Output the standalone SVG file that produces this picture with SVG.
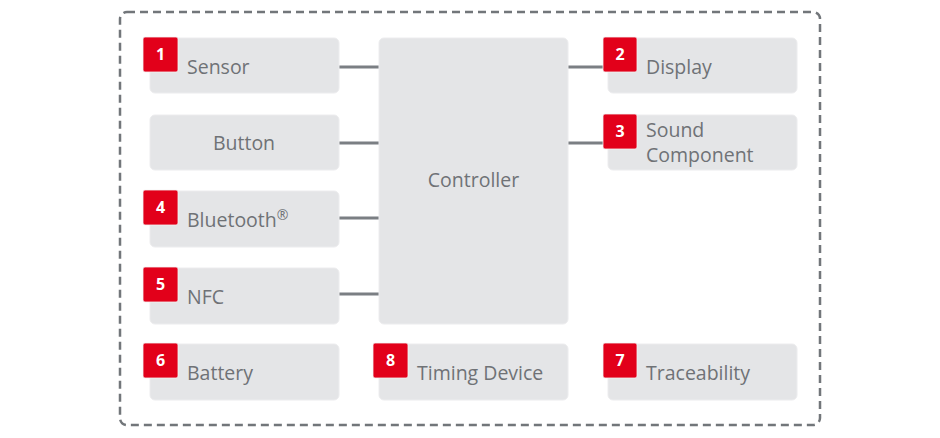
<svg xmlns="http://www.w3.org/2000/svg" width="940" height="438" viewBox="0 0 940 438">
<style>
.box{fill:#e4e5e7;stroke:#ececee;stroke-width:1}
.badge{fill:#e2001a;stroke:#f4f4f4;stroke-width:0.8}
.num{font-family:"Open Sans","Noto Sans",sans-serif;font-size:16px;font-weight:bold;fill:#ffffff;text-anchor:middle}
.lbl{font-family:"Open Sans","Noto Sans",sans-serif;font-size:19.5px;fill:#6f7276}
.mid{text-anchor:middle}
.conn{stroke:#7b7f83;stroke-width:3}
</style>
<rect x="120" y="12" width="700" height="413" rx="7" fill="none" stroke="#72767a" stroke-width="2.5" stroke-dasharray="8 5"/>
<g id="connectors">
<line class="conn" x1="338" y1="67" x2="379" y2="67"/>
<line class="conn" x1="338" y1="143" x2="379" y2="143"/>
<line class="conn" x1="338" y1="218" x2="379" y2="218"/>
<line class="conn" x1="338" y1="294" x2="379" y2="294"/>
<line class="conn" x1="568" y1="67" x2="603" y2="67"/>
<line class="conn" x1="568" y1="143" x2="603" y2="143"/>
</g>
<g id="controller">
<rect class="box" x="379" y="38" width="189" height="286" rx="5"/>
<text class="lbl mid" x="473.5" y="187">Controller</text>
</g>
<g id="sensor">
<rect class="box" x="150" y="38" width="189" height="55" rx="5"/>
<rect class="badge" x="143" y="37" width="35" height="35" rx="2"/>
<text class="num" x="160.5" y="60">1</text>
<text class="lbl" x="187" y="74">Sensor</text>
</g>
<g id="button">
<rect class="box" x="150" y="115" width="189" height="55" rx="5"/>
<text class="lbl mid" x="244" y="150">Button</text>
</g>
<g id="bluetooth">
<rect class="box" x="150" y="191" width="189" height="56" rx="5"/>
<rect class="badge" x="143" y="190" width="35" height="35" rx="2"/>
<text class="num" x="160.5" y="213">4</text>
<text class="lbl" x="187" y="227">Bluetooth<tspan font-size="14" dy="-7">®</tspan></text>
</g>
<g id="nfc">
<rect class="box" x="150" y="268" width="189" height="56" rx="5"/>
<rect class="badge" x="143" y="267" width="35" height="35" rx="2"/>
<text class="num" x="160.5" y="290">5</text>
<text class="lbl" x="187" y="304">NFC</text>
</g>
<g id="display">
<rect class="box" x="608" y="38" width="189" height="55" rx="5"/>
<rect class="badge" x="603" y="37" width="34" height="35" rx="2"/>
<text class="num" x="620" y="60">2</text>
<text class="lbl" x="646" y="74">Display</text>
</g>
<g id="sound">
<rect class="box" x="608" y="115" width="189" height="55" rx="5"/>
<rect class="badge" x="603" y="114" width="34" height="35" rx="2"/>
<text class="num" x="620" y="137">3</text>
<text class="lbl" x="646" y="137">Sound</text>
<text class="lbl" x="646" y="162">Component</text>
</g>
<g id="battery">
<rect class="box" x="150" y="344" width="189" height="56" rx="5"/>
<rect class="badge" x="143" y="343" width="35" height="35" rx="2"/>
<text class="num" x="160.5" y="366">6</text>
<text class="lbl" x="187" y="380">Battery</text>
</g>
<g id="timing">
<rect class="box" x="379" y="344" width="189" height="56" rx="5"/>
<rect class="badge" x="373" y="343" width="35" height="35" rx="2"/>
<text class="num" x="390.5" y="366">8</text>
<text class="lbl" x="417" y="380">Timing Device</text>
</g>
<g id="traceability">
<rect class="box" x="608" y="344" width="189" height="56" rx="5"/>
<rect class="badge" x="603" y="343" width="34" height="35" rx="2"/>
<text class="num" x="620" y="366">7</text>
<text class="lbl" x="646" y="380">Traceability</text>
</g>
</svg>
